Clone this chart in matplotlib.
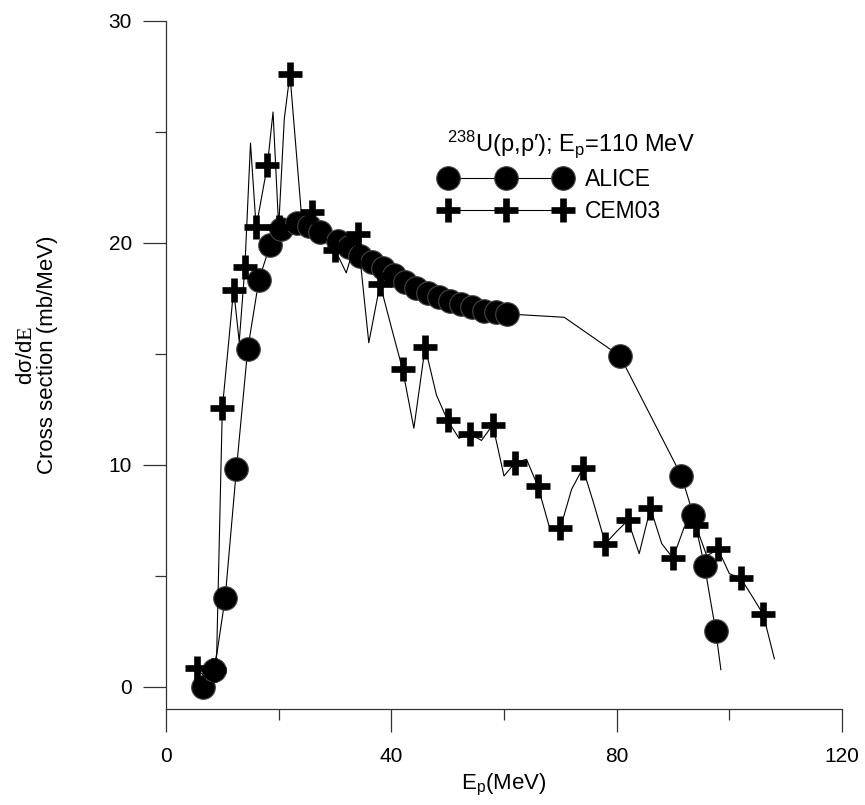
import matplotlib
matplotlib.use("Agg")
import numpy as np
import matplotlib.pyplot as plt
from matplotlib.ticker import FixedLocator

plt.rcParams['font.family'] = ['Liberation Sans', 'DejaVu Sans']
plt.rcParams['mathtext.fontset'] = 'custom'
plt.rcParams['mathtext.rm'] = 'Liberation Sans'
plt.rcParams['mathtext.it'] = 'Liberation Sans:italic'
plt.rcParams['mathtext.bf'] = 'Liberation Sans:bold'
plt.rcParams['mathtext.cal'] = 'Liberation Serif'

# ALICE (line vertices; markers at selected indices)
alice_x = [6.5, 8.6, 10.5, 12.5, 14.5, 16.5, 18.5, 20.5, 23.2, 25.3, 27.4, 30.5,
           32.4, 34.4, 36.5, 38.5, 40.5, 42.4, 44.4, 46.5, 48.5, 50.4, 52.4,
           54.4, 56.5, 58.6, 60.6, 70.7, 80.6, 91.5, 93.6, 95.6, 97.6, 98.5]
alice_y = [0.0, 0.75, 4.0, 9.8, 15.2, 18.35, 19.9, 20.65, 20.9, 20.75, 20.5, 20.1,
           19.8, 19.4, 19.15, 18.85, 18.55, 18.25, 17.95, 17.75, 17.55, 17.4, 17.25,
           17.1, 16.95, 16.9, 16.8, 16.65, 14.9, 9.5, 7.75, 5.45, 2.5, 0.77]
alice_unmarked = [70.7, 98.5]
alice_marked = [i for i, x in enumerate(alice_x) if x not in alice_unmarked]

# CEM03 (line vertices; marker on every second vertex)
cem_x = [5.5, 7, 8.5, 9] + list(range(10, 23)) + list(range(24, 110, 2))
cem_y = [0.84, 0.4, 0.77, 1.5, 12.55, 15.2, 17.9, 15.55, 18.9, 24.5, 20.7, 22.1,
         23.5, 25.9, 20.7, 25.6, 27.6,
         21.4, 21.4, 20.3, 19.7, 18.65, 20.4, 15.5, 18.15, 16.2, 14.3, 11.65,
         15.3, 13.15, 12.0, 11.2, 11.4, 11.1, 11.8, 9.5, 10.1, 10.25, 9.05, 7.25,
         7.15, 8.9, 9.85, 8.2, 6.45, 7.0, 7.5, 6.0, 8.05, 6.45, 5.8, 7.2, 7.3,
         5.9, 6.2, 5.1, 4.9, 4.1, 3.27, 1.26]

x_major = [0, 40, 80, 120]
x_minor = [20, 60, 100]
y_major = [0, 10, 20, 30]
y_minor = [5, 15, 25]

W, H = 865, 805
fig = plt.figure(figsize=(W / 100, H / 100), dpi=100)
ax = fig.add_axes([166 / W, 1 - 709 / H, (842 - 166) / W, (709 - 21) / H])
ax.set_xlim(0, 120)
ax.set_ylim(-1, 30)

axis_col = '#333333'
for s in ('top', 'right'):
    ax.spines[s].set_visible(False)
for s in ('left', 'bottom'):
    ax.spines[s].set_color(axis_col)
    ax.spines[s].set_linewidth(0.9)

ax.xaxis.set_major_locator(FixedLocator(x_major))
ax.xaxis.set_minor_locator(FixedLocator(x_minor))
ax.yaxis.set_major_locator(FixedLocator(y_major))
ax.yaxis.set_minor_locator(FixedLocator(y_minor))
ax.tick_params(which='major', direction='out', length=16.5, width=0.9, color=axis_col,
               labelsize=15)
ax.tick_params(which='minor', direction='out', length=8, width=0.9, color=axis_col)
ax.tick_params(axis='x', which='major', pad=11)
ax.tick_params(axis='y', which='major', pad=8)

l1, = ax.plot(alice_x, alice_y, color='black', lw=0.8, marker='o', ms=17,
              mfc='black', mec='#444444', mew=0.8, markevery=alice_marked,
              label='ALICE', zorder=3)
l2, = ax.plot(cem_x, cem_y, color='black', lw=0.8, marker='+', ms=17, mew=4.8,
              mec='black', markevery=2, label='CEM03', zorder=4)

ax.set_xlabel('E$_\\mathrm{p}$(MeV)', fontsize=16, labelpad=4)

fig.text(27 / W, 1 - 355 / H, 'd\u03c3/d$\\mathcal{E}$', rotation=90, fontsize=16,
         ha='center', va='center')
fig.text(48 / W, 1 - 355 / H, 'Cross section (mb/MeV)', rotation=90, fontsize=16,
         ha='center', va='center')

# legend title
fig.text(447 / W, 1 - 150.5 / H, '$^{238}$U(p,p\u2032); E$_\\mathrm{p}$=110 MeV',
         fontsize=17, ha='left', va='baseline')

# legend body, calibrated so its markers land at the target pixel positions
leg_fs = 16.5
fs_px = leg_fs * 100 / 72
target_first = (448.0, 177.7)   # first marker centre (px from top-left)
target_span = 563.0 - 448.0     # first to last marker centre
target_row_gap = 32.3
target_text_x = 585.0

params = dict(handlelength=5.6, handletextpad=0.7, labelspacing=0.4)
anchor = [440.0, 165.0]
for _ in range(3):
    leg = ax.legend(handles=[l1, l2], loc='upper left',
                    bbox_to_anchor=(anchor[0] / W, 1 - anchor[1] / H),
                    bbox_transform=fig.transFigure, frameon=False, numpoints=3,
                    borderpad=0, borderaxespad=0, fontsize=leg_fs, **params)
    fig.canvas.draw()
    hs = leg.legend_handles
    p0 = hs[0].get_transform().transform(hs[0].get_xydata())
    p1 = hs[1].get_transform().transform(hs[1].get_xydata())
    span = p0[-1, 0] - p0[0, 0]
    gap = p0[0, 1] - p1[0, 1]
    tx = leg.get_texts()[0].get_window_extent().x0
    d_span = target_span - span
    params['handlelength'] += d_span / fs_px
    params['labelspacing'] += (target_row_gap - gap) / fs_px
    params['handletextpad'] += (target_text_x - tx - d_span) / fs_px
    anchor[0] += target_first[0] - p0[0, 0]
    anchor[1] -= (H - target_first[1]) - p0[0, 1]

fig.savefig('out.png', dpi=100)
